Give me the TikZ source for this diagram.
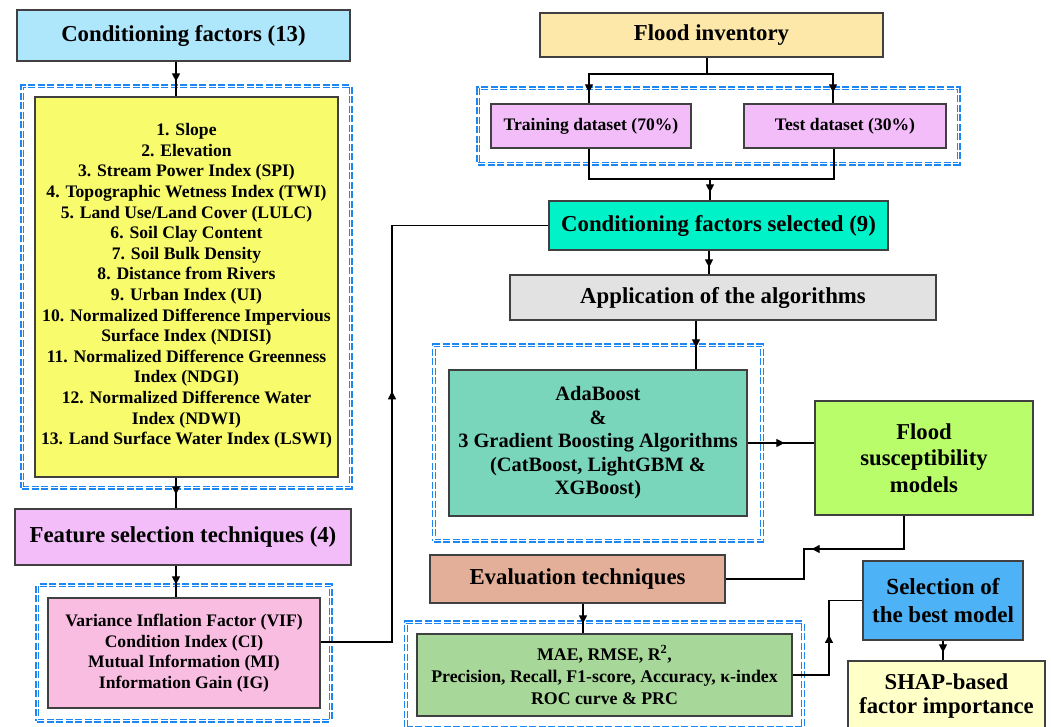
\documentclass[tikz,border=0pt]{standalone}
\usepackage{fontspec}
\setmainfont{Liberation Serif}
\usepackage{tikz}
\usetikzlibrary{arrows.meta, decorations.markings, fit}

\definecolor{cfblue}{HTML}{AEE6FB}
\definecolor{listyellow}{HTML}{F7FB6C}
\definecolor{fsviolet}{HTML}{F2BDF8}
\definecolor{fspink}{HTML}{F9BDE2}
\definecolor{invsand}{HTML}{FDE8AA}
\definecolor{selaqua}{HTML}{00F2C9}
\definecolor{appgray}{HTML}{E2E2E2}
\definecolor{boostteal}{HTML}{7AD6BB}
\definecolor{fsmlime}{HTML}{B9FE6A}
\definecolor{evalsalmon}{HTML}{E3AF99}
\definecolor{metgreen}{HTML}{A8D79A}
\definecolor{bestblue}{HTML}{4DB2F6}
\definecolor{shapcream}{HTML}{FFFFC8}
\definecolor{framecol}{HTML}{1C86F2}

\tikzset{
  box/.style={draw=black!75, line width=1.2pt, align=center, inner sep=2pt},
  title/.style={box, font=\fontsize{22.8}{26}\selectfont\bfseries},
  listtext/.style={box, font=\fontsize{17.6}{20.6}\selectfont\bfseries},
  frame/.style={draw=framecol, line width=1.2pt, double=white, double distance=1.6pt,
    dash pattern=on 7pt off 2.5pt},
  link/.style={draw=black, line width=1.1pt},
  arr/.style={postaction={decorate}, decoration={markings,
    mark=at position #1 with {\arrow{Triangle[length=8pt,width=8pt]}}}}
}

\begin{document}
\begin{tikzpicture}[x=1pt, y=-1pt]

\useasboundingbox (0,0) rectangle (1051,727);

% Left column
\node[title, fill=cfblue, minimum width=333pt, minimum height=51pt] (cf13) at (183.5,35.5) {Conditioning factors (13)};
\node[listtext, fill=listyellow, minimum width=303pt, minimum height=380pt] (list13) at (186.5,287) {%
1. Slope\\
2. Elevation\\
3. Stream Power Index (SPI)\\
4. Topographic Wetness Index (TWI)\\
5. Land Use/Land Cover (LULC)\\
6. Soil Clay Content\\
7. Soil Bulk Density\\
8. Distance from Rivers\\
9. Urban Index (UI)\\
10. Normalized Difference Impervious\\
Surface Index (NDISI)\\
11. Normalized Difference Greenness\\
Index (NDGI)\\
12. Normalized Difference Water\\
Index (NDWI)\\
13. Land Surface Water Index (LSWI)\\[-14.6pt]};
\node[title, fill=fsviolet, minimum width=336pt, minimum height=56pt] (fs4) at (183,537) {Feature selection techniques (4)};
\node[listtext, fill=fspink, minimum width=272pt, minimum height=110pt] (fslist) at (184,653) {%
Variance Inflation Factor (VIF)\\
Condition Index (CI)\\
Mutual Information (MI)\\
Information Gain (IG)};

% Right column
\node[title, fill=invsand, minimum width=343pt, minimum height=44pt] (finv) at (711.5,35) {Flood inventory};
\node[listtext, fill=fsviolet, minimum width=200pt, minimum height=44pt] (train) at (591,126) {Training dataset (70\%)};
\node[listtext, fill=fsviolet, minimum width=202pt, minimum height=44pt] (test) at (845,126) {Test dataset (30\%)};
\node[title, fill=selaqua, minimum width=339pt, minimum height=49pt] (csel) at (718.5,225.5) {Conditioning factors selected (9)};
\node[title, fill=appgray, minimum width=426pt, minimum height=45pt] (app) at (723,297.5) {Application of the algorithms};
\node[box, fill=boostteal, minimum width=298pt, minimum height=146pt,
  font=\fontsize{20.4}{23.5}\selectfont\bfseries] (boost) at (598,443) {%
AdaBoost\\
\&\\
3 Gradient Boosting Algorithms\\
(CatBoost, LightGBM \&\\
XGBoost)};
\node[box, fill=fsmlime, minimum width=218pt, minimum height=114pt,
  font=\fontsize{22.7}{26.5}\selectfont\bfseries] (fsm) at (924,458) {Flood\\susceptibility\\models};
\node[title, fill=evalsalmon, minimum width=295pt, minimum height=48pt] (eval) at (577.5,579) {Evaluation techniques};
\node[box, fill=metgreen, minimum width=375pt, minimum height=82pt,
  font=\fontsize{17.8}{22}\selectfont\bfseries] (metrics) at (604.5,675) {%
MAE, RMSE, R\textsuperscript{2},\\
Precision, Recall, F1-score, Accuracy, κ-index\\
ROC curve \& PRC};
\node[box, fill=bestblue, minimum width=160pt, minimum height=79pt,
  font=\fontsize{23}{28}\selectfont\bfseries] (best) at (943,600.5) {Selection of\\the best model};
\node[box, fill=shapcream, minimum width=197pt, minimum height=70pt,
  font=\fontsize{22.7}{24}\selectfont\bfseries] (shap) at (946.5,696) {SHAP-based\\factor importance};

% Dashed frames
\node[frame, inner xsep=12pt, inner ysep=10pt, fit=(list13)] (fr13) {};
\node[frame, inner xsep=10pt, inner ysep=12pt, fit=(fslist)] (frfs) {};
\node[frame, inner xsep=12pt, inner ysep=15pt, fit=(train) (test)] (frdata) {};
\node[frame, inner xsep=14.5pt, inner ysep=24pt, fit=(boost)] (frboost) {};
\node[frame, inner xsep=10.5pt, inner ysep=11pt, fit=(metrics)] (freval) {};

% Points
\coordinate (lx) at (176,0);
\coordinate (up) at (392,400);
\coordinate (split) at (707,74);
\coordinate (merge) at (710,179);
\coordinate (ax) at (709,0);
\coordinate (bx) at (696,0);
\coordinate (ex) at (583,0);
\coordinate (bend1) at (804,549);
\coordinate (bend2) at (829,640);

% Connectors
\draw[link, arr=-15pt] (cf13.south -| lx) -- (list13.north -| lx);
\draw[link, arr=-14pt] (list13.south -| lx) -- (fs4.north -| lx);
\draw[link, arr=-13pt] (fs4.south -| lx) -- (fslist.north -| lx);
\draw[link, arr=0.5] ([yshift=11pt]fslist.east) -| (up) |- (csel.west);

\draw[link] (finv.south -| split) -- (split);
\draw[link, arr=-11pt] (split) -| ([xshift=-2pt]train.north);
\draw[link, arr=-11pt] (split) -| ([xshift=-12pt]test.north);
\draw[link] ([xshift=-2pt]train.south) |- (merge);
\draw[link] ([xshift=-11pt]test.south) |- (merge);
\draw[link, arr=-8pt] (merge) -- (csel.north -| merge);

\draw[link, arr=-7pt] (csel.south -| ax) -- (app.north -| ax);
\draw[link, arr=-22pt] (app.south -| bx) -- (boost.north -| bx);
\draw[link, arr=-30pt] (boost.east) -- (fsm.west |- boost.east);
\draw[link, arr=0.52] ([xshift=-20pt]fsm.south) |- (bend1) |- (eval.east);
\draw[link, arr=-10pt] (eval.south -| ex) -- (metrics.north -| ex);
\draw[link, arr=0.53] (metrics.east) -| (bend2) |- (best.west);
\draw[link, arr=-8pt] (best.south) -- (shap.north -| best.south);

\end{tikzpicture}
\end{document}
